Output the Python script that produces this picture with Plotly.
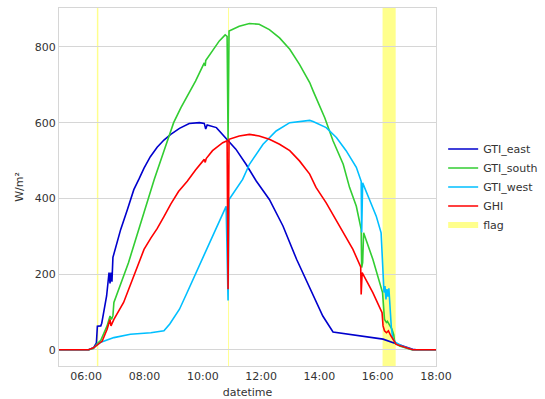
import plotly.graph_objects as go

DAY = "2021-06-21 "

# GTI_east
east_t = ["05:00","06:05","06:15","06:21","06:23","06:30","06:32","06:36","06:42","06:47","06:49","06:51","06:53","06:55",
          "07:01","07:11","07:25","07:38","07:49","07:59","08:12","08:26","08:40","08:54","09:12","09:28","09:32","09:53",
          "10:03","10:06","10:09","10:28","10:41","10:53","11:08","11:29","11:50","12:17","12:45","13:13","13:40","14:07",
          "14:28","15:02","15:37","16:11","16:35","16:59","17:12","17:20","18:00"]
east_v = [0,0,5,18,62,63,70,99,142,204,175,204,180,244,
          274,318,371,423,452,480,510,535,554,569,585,596,598,600,
          598,583,594,587,569,553,530,490,446,397,327,239,164,89,
          47,41,35,28,17,6,1,0,0]

# GTI_south
south_t = ["05:00","06:05","06:15","06:22","06:30","06:36","06:43","06:49","06:52","06:55","06:57","07:27","07:52","08:20",
           "08:40","09:00","09:15","09:30","09:45","10:03","10:05","10:06","10:20","10:34","10:46","10:50","10:52","10:54",
           "11:15","11:36","11:56","12:17","12:38","12:59","13:19","13:40","13:47","14:11","14:28","14:49","15:02","15:16",
           "15:26","15:27","15:29","15:31","15:50","16:10","16:14","16:18","16:20","16:25","16:29","16:33","16:35","16:45",
           "17:00","17:10","18:00"]
south_v = [0,0,3,15,25,45,63,89,80,90,125,230,336,450,
           525,600,640,675,710,758,750,764,789,816,832,828,555,842,
           855,862,860,846,824,794,754,706,684,613,552,490,429,379,
           318,217,230,309,239,151,80,72,75,63,55,40,19,10,
           3,0,0]

# GTI_west
west_t = ["05:00","06:05","06:15","06:29","06:57","07:31","08:13","08:40","08:52","09:04","09:12","09:28","10:07","10:48",
          "10:52","10:54","11:22","11:36","12:04","12:31","12:59","13:19","13:40","13:47","14:14","14:35","14:55","15:16",
          "15:26","15:27","15:29","15:43","15:57","16:07","16:09","16:11","16:13","16:15","16:17","16:19","16:21","16:23",
          "16:25","16:28","16:31","16:37","16:50","17:12","18:00"]
west_v = [0,0,5,19,32,41,45,50,68,92,107,152,261,379,
          130,397,450,490,543,578,600,603,606,603,587,561,526,482,
          445,310,441,397,353,309,250,186,151,168,133,160,140,162,
          120,60,30,19,10,0,0]

# GHI
ghi_t = ["05:00","06:05","06:15","06:23","06:33","06:43","06:49","06:51","06:53","06:57","07:17","07:38","07:59","08:13",
         "08:26","08:40","08:54","09:10","09:28","09:45","10:03","10:05","10:07","10:20","10:41","10:50","10:52","10:54",
         "11:15","11:36","11:56","12:17","12:38","12:59","13:19","13:40","13:53","14:14","14:42","15:09","15:25","15:26",
         "15:28","15:50","16:09","16:11","16:14","16:18","16:22","16:27","16:38","16:59","17:12","18:00"]
ghi_v = [0,0,5,14,23,54,80,63,70,80,125,195,265,295,
         320,352,385,418,445,475,503,495,505,526,547,552,160,556,
         565,569,565,556,543,526,499,464,429,388,327,265,219,146,
         204,151,98,63,50,45,50,37,14,6,0,0]

# flag intervals
flag_start = ["06:22","10:52","16:10"]
flag_end = ["06:25","10:54","16:37"]
flag_fill = "rgba(255,255,0,0.45)"

series = [
    ("GTI_east", east_t, east_v, "#0000CD"),
    ("GTI_south", south_t, south_v, "#32CD32"),
    ("GTI_west", west_t, west_v, "#00BFFF"),
    ("GHI", ghi_t, ghi_v, "#FF0000"),
]

fig = go.Figure()
for name, t, v, c in series:
    fig.add_trace(go.Scatter(x=[DAY + s for s in t], y=v, mode="lines", name=name,
                             line=dict(color=c, width=1.6)))

# legend entry for the flag spans
fig.add_trace(go.Scatter(x=[None], y=[None], mode="none", fill="toself", fillcolor=flag_fill,
                         name="flag", hoverinfo="skip"))

for a, b in zip(flag_start, flag_end):
    fig.add_shape(type="rect", xref="x", yref="paper", x0=DAY + a, x1=DAY + b, y0=0, y1=1,
                  fillcolor=flag_fill, line=dict(width=0), layer="between")

grid = "#d6d6d6"
fig.update_layout(
    width=545, height=399,
    margin=dict(l=59, r=109, t=8, b=33, autoexpand=False),
    paper_bgcolor="white", plot_bgcolor="white",
    font=dict(family="DejaVu Sans", size=11, color="#333333"),
    showlegend=True,
    legend=dict(x=1.019, xanchor="left", y=0.5, yanchor="middle", font=dict(size=11, color="#333333"),
                bgcolor="rgba(0,0,0,0)", tracegroupgap=0),
    xaxis=dict(range=[DAY + "05:04", DAY + "18:00"], tickformat="%H:%M", dtick=2 * 3600 * 1000,
               tick0=DAY + "06:00", showgrid=False, showline=True, linecolor=grid, mirror=True,
               ticks="", automargin=False,
               title=dict(text="datetime", standoff=9, font=dict(size=11)), zeroline=False),
    yaxis=dict(range=[-43, 903], tickvals=[0, 200, 400, 600, 800], showgrid=True, gridcolor=grid,
               showline=True, linecolor=grid, mirror=True, ticks="", zeroline=False, automargin=False,
               title=dict(text="W/m²", standoff=8, font=dict(size=11))),
)

fig.write_html("out.html")
